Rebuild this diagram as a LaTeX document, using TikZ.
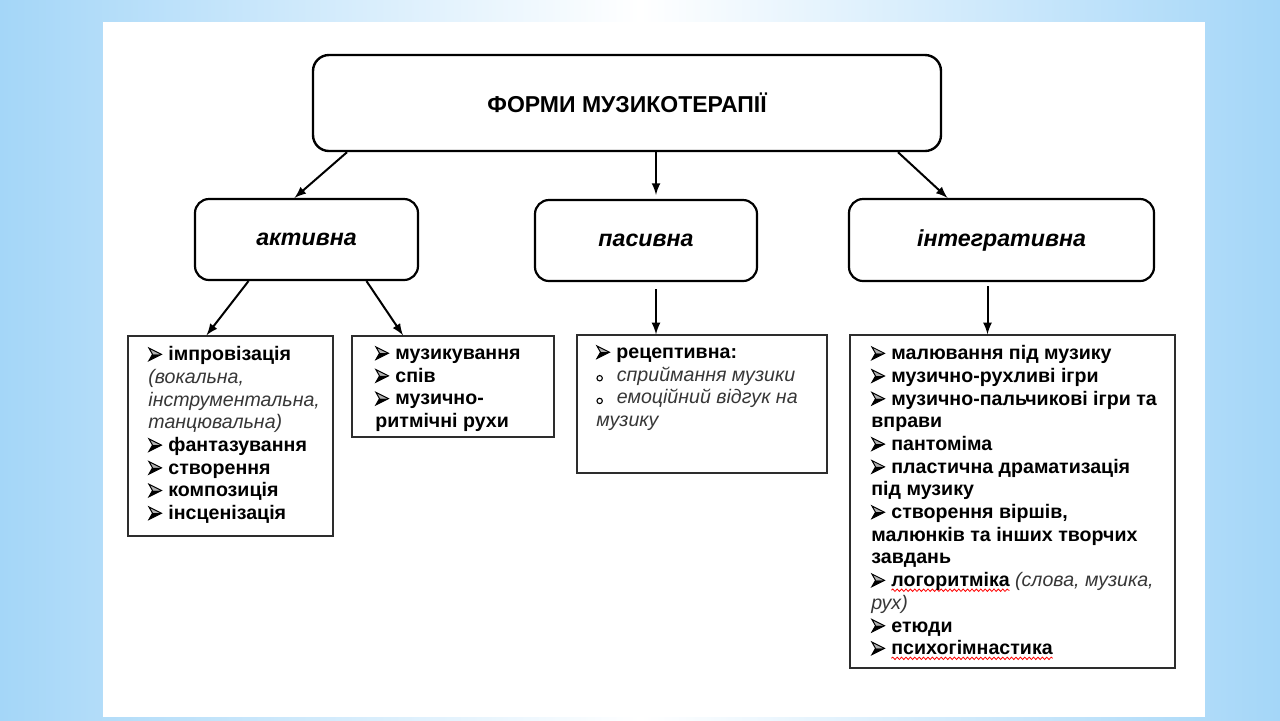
\documentclass[tikz,border=0pt]{standalone}
\usepackage{fontspec}
\setmainfont{Liberation Sans}
\usetikzlibrary{positioning,fit,calc,arrows,decorations.pathmorphing}

\definecolor{slideblue}{RGB}{164,214,248}
\definecolor{boxline}{RGB}{45,45,45}
\definecolor{softtext}{RGB}{55,55,55}

% list markers and the spell-check wave
\newcommand\bul{\tikz[baseline=0pt,x=1pt,y=1pt]{%
  \fill[black!30] (0,6.3) -- (6.3,3.15) -- (1.8,3.15) -- cycle;
  \fill (0,0) -- (6.3,3.15) -- (1.8,3.15) -- cycle;
  \draw[line width=0.5pt, line join=miter] (0,0) -- (6.3,3.15) -- (0,6.3) -- (1.8,3.15) -- cycle;}\hspace{3.2pt}}
\newcommand\sbul{\tikz[baseline=0pt,x=1pt,y=1pt]\draw[line width=0.55pt] (1.5,1.5) circle (1.35pt);\hspace{7pt}}
\newcommand\spellerr[1]{\setbox0\hbox{#1}\rlap{\tikz[overlay,baseline=0pt,x=1pt,y=1pt]
  \draw[red, line width=0.4pt, decorate, decoration={snake, amplitude=0.6pt, segment length=2.2pt}]
  (0,-1.8) -- (\the\wd0,-1.8);}\box0}
\newcommand\note[1]{{\itshape\mdseries\color{softtext}#1}}

\tikzset{
  topbox/.style={draw, line width=1.2pt, rounded corners=8pt, inner sep=0pt},
  formbox/.style={draw, line width=1.1pt, rounded corners=7pt, inner sep=0pt},
  toptext/.style={inner sep=0pt, font=\bfseries\fontsize{11.5}{13}\selectfont},
  formtext/.style={inner sep=0pt, font=\bfseries\itshape\fontsize{11.6}{13}\selectfont},
  listbox/.style={draw=boxline, line width=0.7pt, inner sep=0pt},
  listtext/.style={anchor=north west, inner sep=0pt, align=left,
    font=\fontsize{9.8}{11.35}\selectfont},
  arr/.style={-latex, line width=1pt}
}

\begin{document}
\begin{tikzpicture}[x=0.5pt, y=-0.5pt]
  \useasboundingbox (0,0) rectangle (1280,720);
  % slide
  \shade[left color=slideblue, right color=slideblue, middle color=white] (0,0) rectangle (1280,720);
  \fill[white] (103,22) rectangle (1205,717);

  % boxes
  \node[topbox, fit={(313,55) (941,151)}] (forms) {};
  \node[formbox, fit={(195,199) (418,280)}] (active) {};
  \node[formbox, fit={(535,200) (757,281)}] (passive) {};
  \node[formbox, fit={(849,199) (1154,281)}] (integr) {};
  \node[toptext] (formsT) at (forms.center) {ФОРМИ МУЗИКОТЕРАПІЇ};
  \node[formtext] (activeT) at (active.center) {активна};
  \node[formtext] (passiveT) at (passive.center) {пасивна};
  \node[formtext] (integrT) at (integr.center) {інтегративна};

  \node[listbox, fit={(128,336) (333,536)}] (l1) {};
  \node[listbox, fit={(352,336) (554,437)}] (l2) {};
  \node[listbox, fit={(577,335) (827,473)}] (l3) {};
  \node[listbox, fit={(850,335) (1175,668)}] (l4) {};

  \node[listtext] (t1) at (148,346) {\bul\textbf{імпровізація}\\
    \note{(вокальна,}\\
    \note{інструментальна,}\\
    \note{танцювальна)}\\
    \bul\textbf{фантазування}\\
    \bul\textbf{створення}\\
    \bul\textbf{композиція}\\
    \bul\textbf{інсценізація}};
  \node[listtext] (t2) at (375,346) {\bul\textbf{музикування}\\
    \bul\textbf{спів}\\
    \bul\textbf{музично-}\\
    \textbf{ритмічні рухи}};
  \node[listtext] (t3) at (596,345) {\bul\textbf{рецептивна:}\\
    \sbul\note{сприймання музики}\\
    \sbul\note{емоційний відгук на}\\
    \note{музику}};
  \node[listtext] (t4) at (871,345) {\bul\textbf{малювання під музику}\\
    \bul\textbf{музично-рухливі ігри}\\
    \bul\textbf{музично-пальчикові ігри та}\\
    \textbf{вправи}\\
    \bul\textbf{пантоміма}\\
    \bul\textbf{пластична драматизація}\\
    \textbf{під музику}\\
    \bul\textbf{створення віршів,}\\
    \textbf{малюнків та інших творчих}\\
    \textbf{завдань}\\
    \bul\textbf{\spellerr{логоритміка}} \note{(слова, музика,}\\
    \note{рух)}\\
    \bul\textbf{етюди}\\
    \bul\textbf{\spellerr{психогімнастика}}};

  % arrows
  \draw[arr] ($(forms.south)+(-280,0)$) -- ($(active.north)+(-12,0)$);
  \draw[arr] ($(forms.south)+(29,0)$) -- ($(passive.north)+(10,-4)$);
  \draw[arr] ($(forms.south)+(271,0)$) -- ($(integr.north)+(-54,0)$);
  \draw[arr] ($(active.south)+(-58,0)$) -- ($(l1.north)+(-24,0)$);
  \draw[arr] ($(active.south)+(60,0)$) -- ($(l2.north)+(-50,0)$);
  \draw[arr] ($(passive.south)+(10,7)$) -- ($(l3.north)+(-46,0)$);
  \draw[arr] ($(integr.south)+(-14,4)$) -- ($(l4.north)+(-25,0)$);
\end{tikzpicture}
\end{document}
